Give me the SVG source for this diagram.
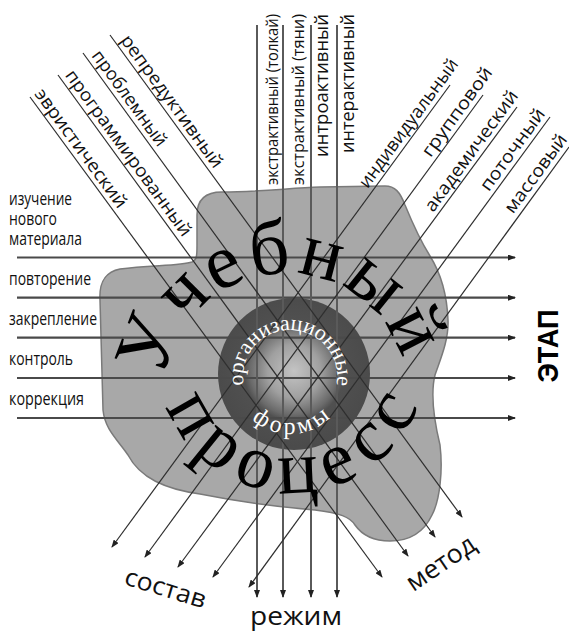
<svg xmlns="http://www.w3.org/2000/svg" width="569" height="633" viewBox="0 0 569 633">
<style>
.lbl{font-family:"Open Sans","DejaVu Sans",sans-serif;font-size:18px;fill:#111}
.big{font-family:"Liberation Serif","DejaVu Serif",serif;font-size:78px;fill:#000}
.small{font-family:"Liberation Serif","DejaVu Serif",serif;font-size:22px;fill:#fff}
.h{stroke:#4a4a4a;stroke-width:2.2;fill:none}
.v{stroke:#5a5a5a;stroke-width:2;fill:none}
.d{stroke:#2e2e2e;stroke-width:1.2;fill:none}
</style>
<defs>
<marker id="ah" viewBox="0 0 8 6" refX="7" refY="3" markerWidth="8" markerHeight="6" markerUnits="userSpaceOnUse" orient="auto"><path d="M0,0 L8,3 L0,6 z" fill="#222"/></marker>
<radialGradient id="sph" cx="0.5" cy="0.48" r="0.5">
<stop offset="0" stop-color="#c4c4c4"/>
<stop offset="0.35" stop-color="#a0a0a0"/>
<stop offset="0.58" stop-color="#6a6a6a"/>
<stop offset="0.66" stop-color="#505050"/>
<stop offset="1" stop-color="#4b4b4b"/>
</radialGradient>
<path id="arcTop" d="M164.5,379.2 A122,122 0 0 1 401.7,358.3"/>
<path id="arcBot" d="M166.0,406.4 A135,135 0 0 0 418.0,406.4"/>
<path id="arcOrg" d="M243.7,385.2 A47,47 0 1 1 336.2,385.6"/>
<path id="arcForm" d="M251.9,419.4 A57,57 0 0 0 331.0,416.6"/>
</defs>
<rect width="569" height="633" fill="#fff"/>

<g id="blob">
<path d="M197,215 C197,200 205,192 222,192 C260,192 290,188 320,187 L385,186 C395,186 400,192 405,205 C412,222 420,240 430,256 C440,272 447,295 448,320 C449,340 440,360 435,375 C430,395 434,420 440,445 C443,470 440,500 432,515 C424,532 410,541 390,541 C372,541 362,535 355,525 C350,517 340,513 315,510 C280,507 240,502 200,494 C165,489 140,478 128,455 C118,440 105,430 103,410 L100,300 C99,282 105,272 120,269 C150,265 180,266 192,262 C197,260 197,255 197,245 Z" fill="#a8a8a8" stroke="#7a7a7a" stroke-width="1.5"/>
</g>

<g id="core">
<circle cx="294" cy="374" r="76" fill="url(#sph)"/>
</g>

<g id="connectors">
<path class="h" d="M17,257.5 H515" marker-end="url(#ah)"/>
<path class="h" d="M17,297.7 H515" marker-end="url(#ah)"/>
<path class="h" d="M17,337.7 H515" marker-end="url(#ah)"/>
<path class="h" d="M17,378 H515" marker-end="url(#ah)"/>
<path class="h" d="M17,418 H515" marker-end="url(#ah)"/>
<path class="v" d="M257,25 V597" marker-end="url(#ah)"/>
<path class="v" d="M283,25 V597" marker-end="url(#ah)"/>
<path class="v" d="M311,25 V597" marker-end="url(#ah)"/>
<path class="v" d="M337,25 V597" marker-end="url(#ah)"/>
<path class="d" d="M110,35 L462,517" marker-end="url(#ah)"/>
<path class="d" d="M83,53 L435,537" marker-end="url(#ah)"/>
<path class="d" d="M58,75 L408,556" marker-end="url(#ah)"/>
<path class="d" d="M30,97 L382,577" marker-end="url(#ah)"/>
<path class="d" d="M450,85 L112,547" marker-end="url(#ah)"/>
<path class="d" d="M483,95 L145,557" marker-end="url(#ah)"/>
<path class="d" d="M517,107 L178,567" marker-end="url(#ah)"/>
<path class="d" d="M550,117 L213,577" marker-end="url(#ah)"/>
<path class="d" d="M569,147 L249,587" marker-end="url(#ah)"/>
</g>

<g id="process-title">
<text class="big"><textPath href="#arcTop" textLength="330" lengthAdjust="spacing">Учебный</textPath></text>
<text class="big" style="font-size:76px"><textPath href="#arcBot" textLength="325" lengthAdjust="spacing">процесс</textPath></text>
</g>

<g id="forms-title">
<text class="small"><textPath href="#arcOrg" textLength="164" lengthAdjust="spacing">организационные</textPath></text>
<text class="small" style="font-size:24px"><textPath href="#arcForm" textLength="86" lengthAdjust="spacing">формы</textPath></text>
</g>

<g id="stages">
<text class="lbl" x="9" y="205" textLength="63" lengthAdjust="spacingAndGlyphs">изучение</text>
<text class="lbl" x="9" y="225" textLength="48" lengthAdjust="spacingAndGlyphs">нового</text>
<text class="lbl" x="9" y="245" textLength="73" lengthAdjust="spacingAndGlyphs">материала</text>
<text class="lbl" x="9" y="285" textLength="82" lengthAdjust="spacingAndGlyphs">повторение</text>
<text class="lbl" x="9" y="325" textLength="88" lengthAdjust="spacingAndGlyphs">закрепление</text>
<text class="lbl" x="9" y="365" textLength="64" lengthAdjust="spacingAndGlyphs">контроль</text>
<text class="lbl" x="9" y="405" textLength="75" lengthAdjust="spacingAndGlyphs">коррекция</text>
<text transform="translate(558,346) rotate(-90)" text-anchor="middle" style="font-family:'Liberation Sans',Arial,sans-serif;font-weight:bold;font-size:29px" textLength="73" lengthAdjust="spacingAndGlyphs">ЭТАП</text>
</g>

<g id="regimes">
<text class="lbl" transform="translate(277.5,14) rotate(-90)" text-anchor="end" style="font-size:16px" textLength="171" lengthAdjust="spacingAndGlyphs">экстрактивный (толкай)</text>
<text class="lbl" transform="translate(304,14) rotate(-90)" text-anchor="end" style="font-size:16px" textLength="171" lengthAdjust="spacingAndGlyphs">экстрактивный (тяни)</text>
<text class="lbl" transform="translate(327.5,14) rotate(-90)" text-anchor="end" textLength="143" lengthAdjust="spacingAndGlyphs">интроактивный</text>
<text class="lbl" transform="translate(353.5,14) rotate(-90)" text-anchor="end" textLength="139" lengthAdjust="spacingAndGlyphs">интерактивный</text>
<text class="lbl" x="296" y="625" text-anchor="middle" style="font-size:25px" textLength="92" lengthAdjust="spacingAndGlyphs">режим</text>
</g>

<g id="methods">
<text class="lbl" transform="translate(119.9,40.2) rotate(53.9)" textLength="160" lengthAdjust="spacingAndGlyphs">репредуктивный</text>
<text class="lbl" transform="translate(91.1,55.7) rotate(53.9)" textLength="114" lengthAdjust="spacingAndGlyphs">проблемный</text>
<text class="lbl" transform="translate(64.4,75.3) rotate(53.9)" textLength="201" lengthAdjust="spacingAndGlyphs">программированный</text>
<text class="lbl" transform="translate(34,94.1) rotate(53.9)" textLength="143" lengthAdjust="spacingAndGlyphs">эвристический</text>
<text class="lbl" transform="translate(442,565) rotate(-34)" text-anchor="middle" y="6.5" style="font-size:26px" textLength="78" lengthAdjust="spacingAndGlyphs">метод</text>
</g>

<g id="composition">
<text class="lbl" transform="translate(459,64.3) rotate(-53.8)" text-anchor="end" textLength="155" lengthAdjust="spacingAndGlyphs">индивидуальный</text>
<text class="lbl" transform="translate(493.2,72.6) rotate(-53.8)" text-anchor="end" textLength="106" lengthAdjust="spacingAndGlyphs">групповой</text>
<text class="lbl" transform="translate(518.9,95.9) rotate(-53.8)" text-anchor="end" textLength="145" lengthAdjust="spacingAndGlyphs">академический</text>
<text class="lbl" transform="translate(546,114) rotate(-53.8)" text-anchor="end" textLength="97" lengthAdjust="spacingAndGlyphs">поточный</text>
<text class="lbl" transform="translate(568,139.5) rotate(-53.8)" text-anchor="end" textLength="93" lengthAdjust="spacingAndGlyphs">массовый</text>
<text class="lbl" transform="translate(165,590) rotate(17)" text-anchor="middle" y="6.5" style="font-size:25px" textLength="84" lengthAdjust="spacingAndGlyphs">состав</text>
</g>
</svg>
